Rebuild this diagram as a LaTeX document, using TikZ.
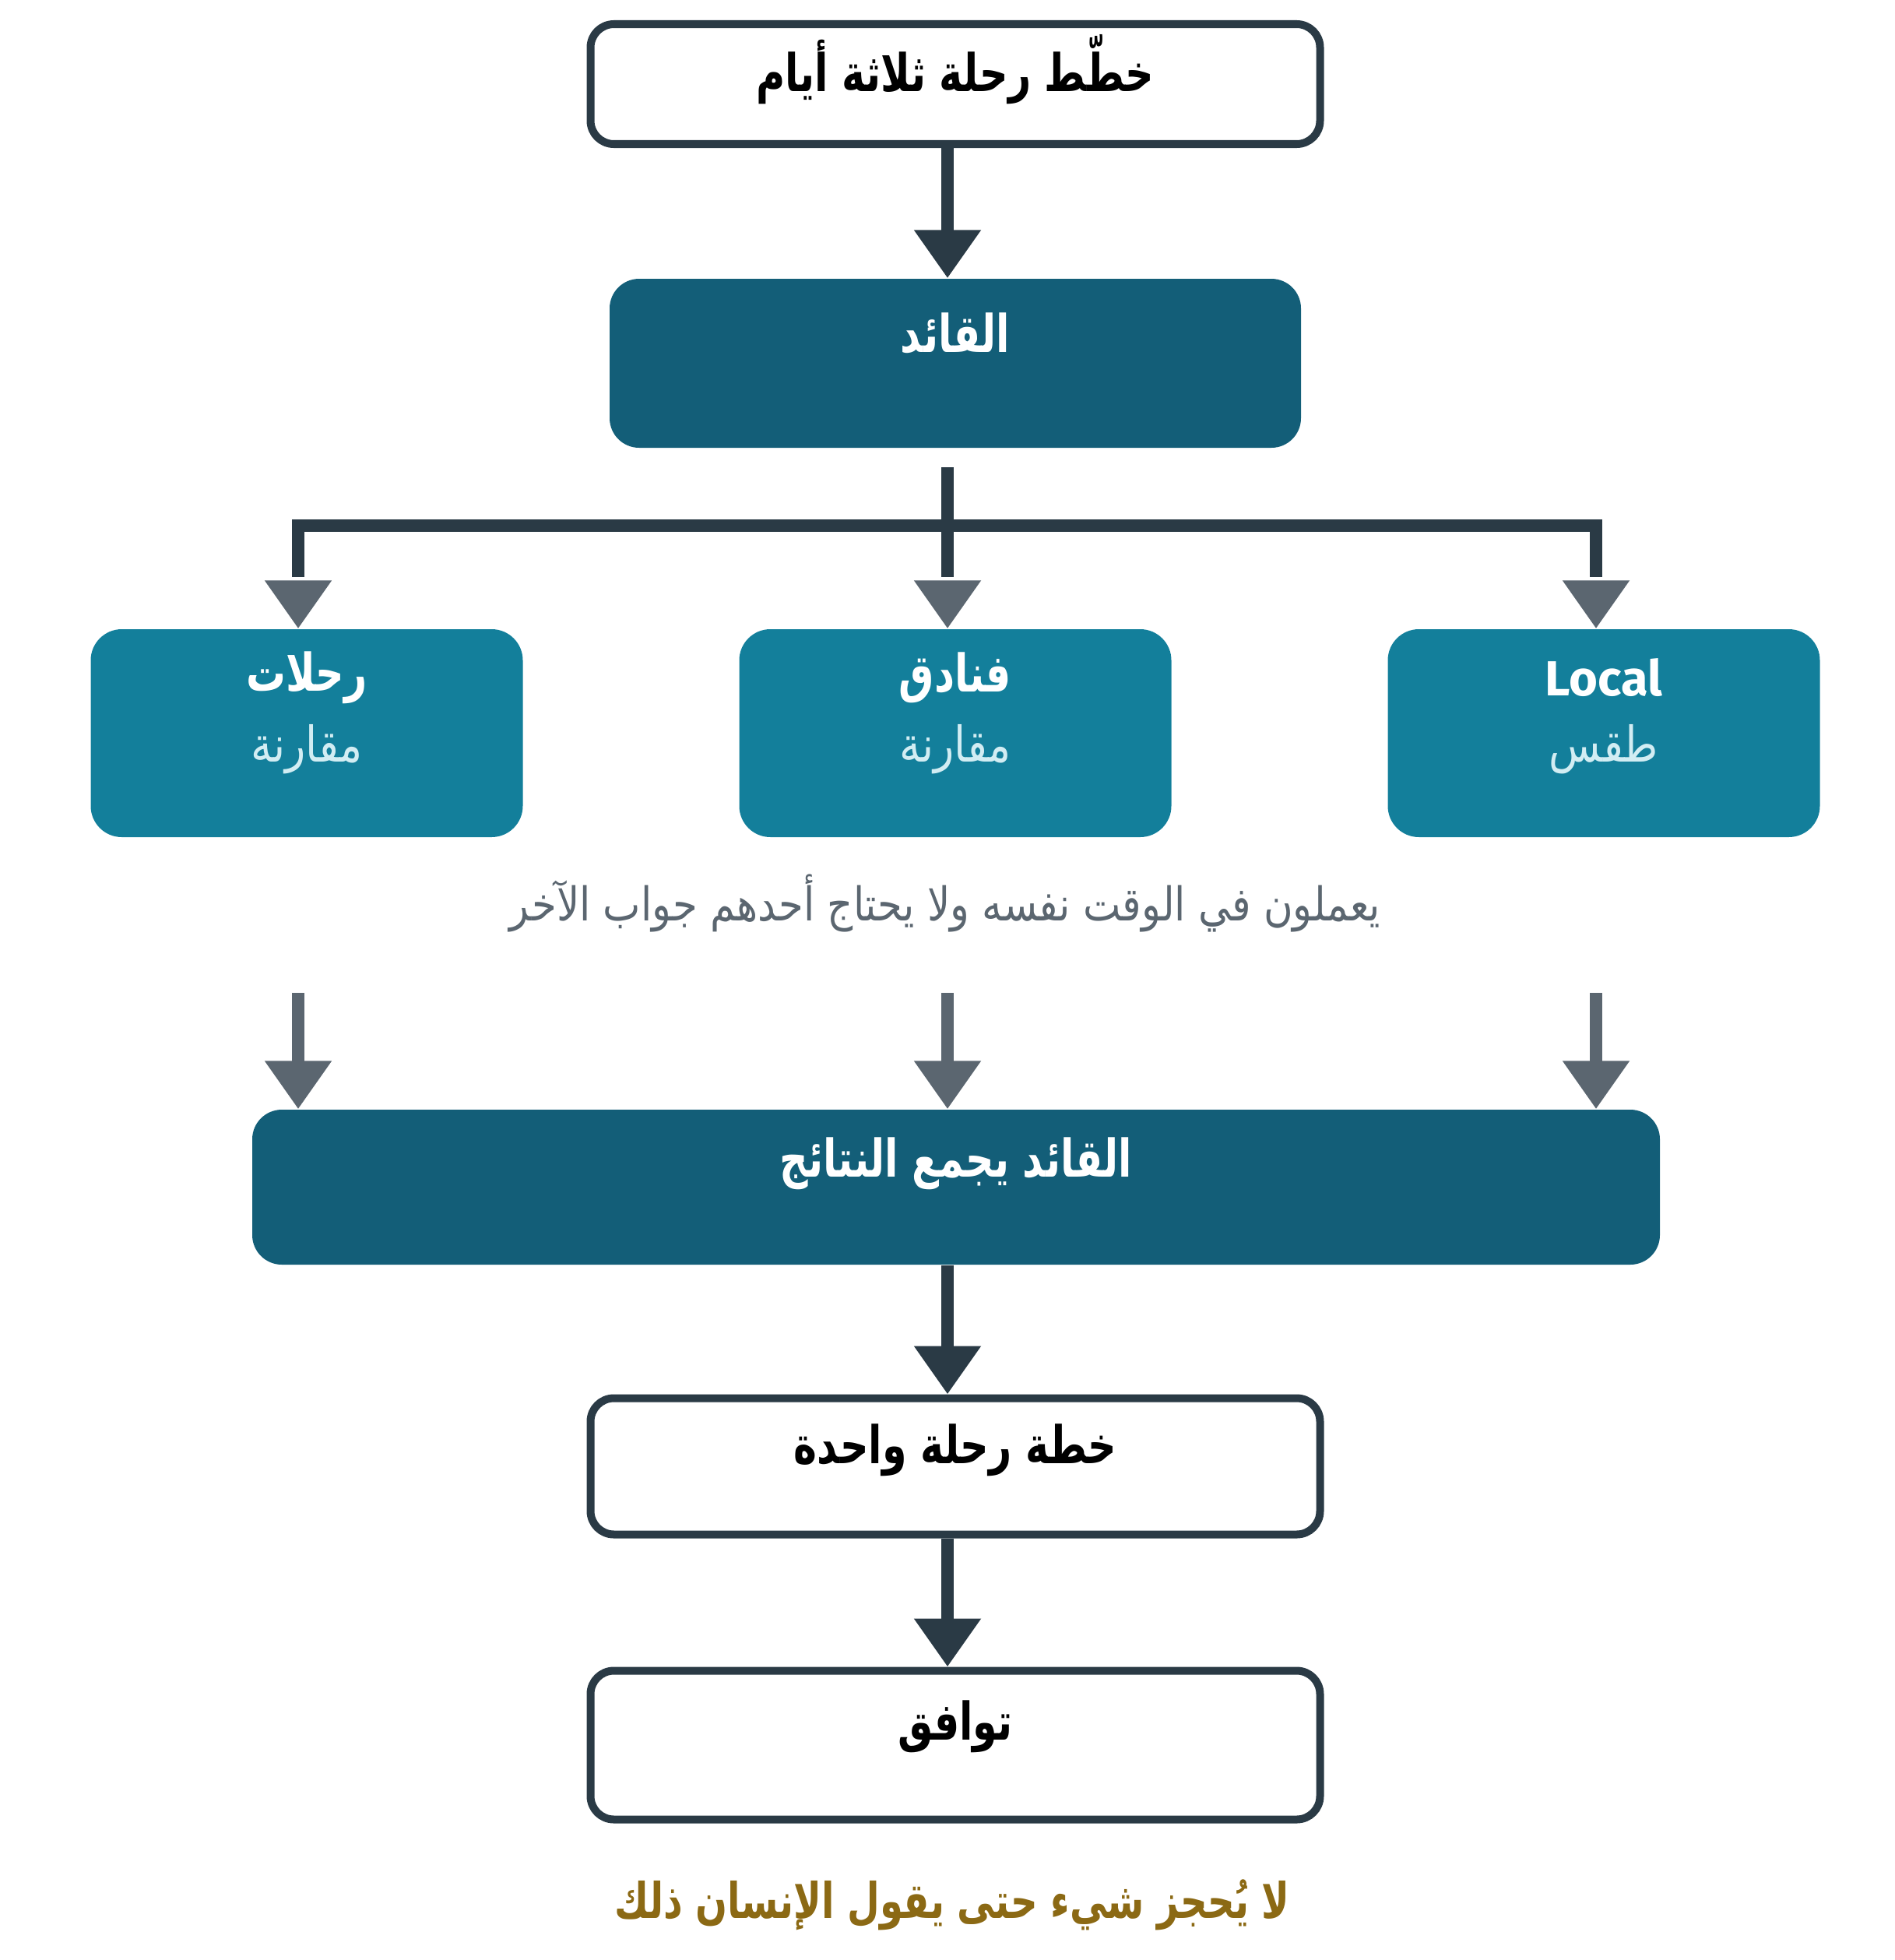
\documentclass[tikz,border=0pt]{standalone}
\usepackage{fontspec}
\setmainfont{Fira Sans}
\newfontfamily\arabicfont[Script=Arabic, FakeStretch=0.86, BoldFeatures={FakeStretch=0.76}]{DejaVu Sans}
\TeXXeTstate=1
\usetikzlibrary{arrows.meta,positioning}

\definecolor{edgedark}{HTML}{2A3A45}
\definecolor{leadteal}{HTML}{135E78}
\definecolor{agentteal}{HTML}{137F9B}
\definecolor{arrowgray}{HTML}{5B6670}
\definecolor{subcyan}{HTML}{D2EDF3}
\definecolor{notegold}{HTML}{8B6914}

\tikzset{
	plainbox/.style={draw=edgedark, line width=2.85pt, fill=white, rounded corners=3mm, minimum width=9.37cm, inner sep=0pt},
	leadbox/.style={fill=leadteal, rounded corners=3.8mm, inner sep=0pt},
	agentbox/.style={fill=agentteal, rounded corners=4mm, minimum width=5.55cm, minimum height=2.67cm, inner sep=0pt},
	darkline/.style={draw=edgedark, line width=4.55pt},
	darkarrow/.style={darkline, -{Triangle[width=8.2mm,length=6.2mm]}},
	grayarrow/.style={draw=arrowgray, line width=4.55pt, -{Triangle[width=8.2mm,length=6.2mm]}},
	boxtext/.style={font=\arabicfont\bfseries\fontsize{19}{23}\selectfont, inner sep=0pt},
	subtext/.style={font=\arabicfont\fontsize{18}{22}\selectfont, text=subcyan, inner sep=0pt},
	notetext/.style={font=\arabicfont\fontsize{17}{20}\selectfont, inner sep=0pt}
}

\begin{document}
\begin{tikzpicture}[scale=1]
	\useasboundingbox (0,0) rectangle (24.34,-25.17);
	\coordinate (colL) at (3.83,0);
	\coordinate (colM) at (12.17,0);
	\coordinate (colR) at (20.50,0);

	\node[plainbox, minimum height=1.54cm] (plan) at (12.27,-1.08) {};
	\node[leadbox, minimum width=8.88cm, minimum height=2.17cm] (lead) at (12.27,-4.665) {};
	\node[agentbox] (trips) at (3.94,-9.415) {};
	\node[agentbox] (hotels) at (12.27,-9.415) {};
	\node[agentbox] (local) at (20.60,-9.415) {};
	\node[leadbox, minimum width=18.08cm, minimum height=1.99cm] (merge) at (12.28,-15.245) {};
	\node[plainbox, minimum height=1.75cm] (single) at (12.27,-18.83) {};
	\node[plainbox, minimum height=1.91cm] (agree) at (12.27,-22.41) {};

	\node[boxtext] (plan-t) at ([yshift=1.9mm]plan.center) {\beginR خطّط رحلة ثلاثة أيام\endR};
	\node[boxtext, text=white] (lead-t) at ([yshift=3.8mm]lead.center) {\beginR القائد\endR};
	\node[boxtext, text=white] (trips-t) at ([yshift=7.1mm]trips.center) {\beginR رحلات\endR};
	\node[subtext] (trips-s) at ([yshift=-2.1mm]trips.center) {\beginR مقارنة\endR};
	\node[boxtext, text=white] (hotels-t) at ([yshift=7.1mm]hotels.center) {\beginR فنادق\endR};
	\node[subtext] (hotels-s) at ([yshift=-2.1mm]hotels.center) {\beginR مقارنة\endR};
	\node[boxtext, font=\bfseries\fontsize{18}{22}\selectfont, text=white] (local-t) at ([yshift=7.1mm]local.center) {Local};
	\node[subtext] (local-s) at ([yshift=-2.1mm]local.center) {\beginR طقس\endR};
	\node[notetext, text=arrowgray] (parallel) at (12.14,-11.60) {\beginR يعملون في الوقت نفسه ولا يحتاج أحدهم جواب الآخر\endR};
	\node[boxtext, text=white] (merge-t) at ([yshift=3.0mm]merge.center) {\beginR القائد يجمع النتائج\endR};
	\node[boxtext] (single-t) at ([yshift=2.1mm]single.center) {\beginR خطة رحلة واحدة\endR};
	\node[boxtext] (agree-t) at ([yshift=2.4mm]agree.center) {\beginR توافق\endR};
	\node[notetext, font=\arabicfont\bfseries\fontsize{18}{21}\selectfont, text=notegold] (human) at (12.23,-24.46) {\beginR لا يُحجز شيء حتى يقول الإنسان ذلك\endR};

	\draw[darkarrow] (plan.south -| colM) -- (lead.north -| colM);
	\draw[darkline] (colM |- 0,-6.00) -- (colM |- 0,-7.41);
	\draw[darkline] (colL |- 0,-7.41) |- (colR |- 0,-6.75) -- (colR |- 0,-7.41);
	\draw[grayarrow] (colL |- 0,-7.46) -- (trips.north -| colL);
	\draw[grayarrow] (colM |- 0,-7.46) -- (hotels.north -| colM);
	\draw[grayarrow] (colR |- 0,-7.46) -- (local.north -| colR);

	\draw[grayarrow] (colL |- 0,-12.75) -- (merge.north -| colL);
	\draw[grayarrow] (colM |- 0,-12.75) -- (merge.north -| colM);
	\draw[grayarrow] (colR |- 0,-12.75) -- (merge.north -| colR);
	\draw[darkarrow] (merge.south -| colM) -- (single.north -| colM);
	\draw[darkarrow] (single.south -| colM) -- (agree.north -| colM);
\end{tikzpicture}
\end{document}
